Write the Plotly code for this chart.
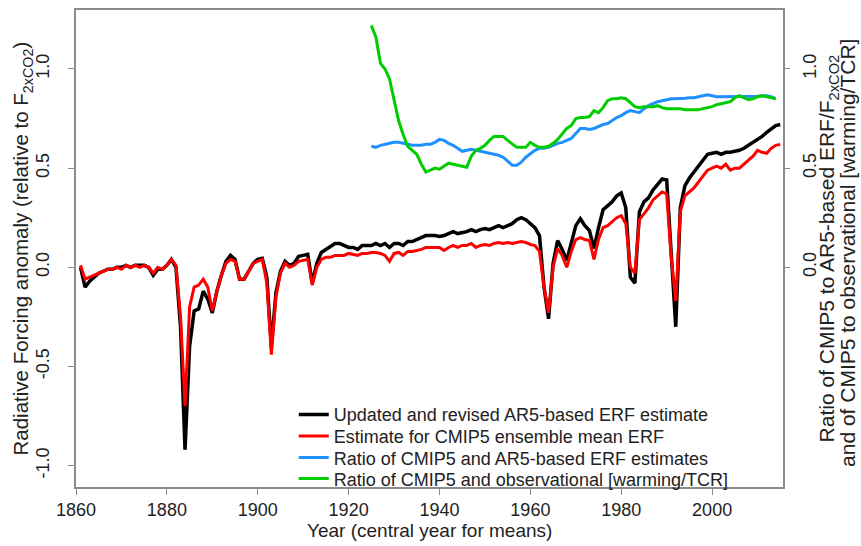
import plotly.graph_objects as go

years = list(range(1861, 2016))

ar5_erf = [
    0.00, -0.10, -0.07, -0.05, -0.03, -0.02, -0.01, -0.01, 0.00, 0.00,   # 1861-1870
    0.01, 0.00, 0.01, 0.01, 0.01, 0.00, -0.04, -0.01, -0.01, 0.01,       # 1871-1880
    0.04, 0.00, -0.30, -0.92, -0.40, -0.22, -0.21, -0.12, -0.16, -0.23,  # 1881-1890
    -0.12, -0.04, 0.03, 0.06, 0.04, -0.06, -0.06, -0.02, 0.02, 0.04,     # 1891-1900
    0.045, -0.05, -0.40, -0.13, -0.02, 0.03, 0.01, 0.02, 0.055, 0.06,    # 1901-1910
    0.065, -0.08, 0.02, 0.075, 0.09, 0.11, 0.12, 0.12, 0.11, 0.10,       # 1911-1920
    0.10, 0.09, 0.11, 0.11, 0.11, 0.12, 0.11, 0.12, 0.10, 0.12,          # 1921-1930
    0.12, 0.11, 0.13, 0.13, 0.14, 0.15, 0.16, 0.16, 0.16, 0.155,         # 1931-1940
    0.16, 0.17, 0.18, 0.17, 0.175, 0.18, 0.19, 0.18, 0.19, 0.195,        # 1941-1950
    0.19, 0.20, 0.21, 0.20, 0.21, 0.22, 0.24, 0.25, 0.24, 0.22,          # 1951-1960
    0.20, 0.16, -0.10, -0.26, 0.02, 0.135, 0.09, 0.035, 0.13, 0.21,      # 1961-1970
    0.245, 0.21, 0.185, 0.095, 0.20, 0.29, 0.31, 0.33, 0.36, 0.375,      # 1971-1980
    0.30, -0.05, -0.08, 0.28, 0.33, 0.35, 0.39, 0.42, 0.445, 0.44,       # 1981-1990
    0.10, -0.30, 0.30, 0.41, 0.45, 0.48, 0.51, 0.54, 0.57, 0.575,        # 1991-2000
    0.58, 0.57, 0.58, 0.58, 0.585, 0.59, 0.60, 0.615, 0.625, 0.645,      # 2001-2010
    0.66, 0.68, 0.70, 0.715, 0.72,                                       # 2011-2015
]

cmip5_erf = [
    0.01, -0.06, -0.05, -0.04, -0.03, -0.02, -0.01, -0.01, 0.00, -0.01,  # 1861-1870
    0.01, 0.00, 0.01, 0.00, 0.01, 0.00, -0.03, 0.00, -0.01, 0.01,        # 1871-1880
    0.04, 0.01, -0.25, -0.70, -0.20, -0.10, -0.09, -0.06, -0.10, -0.22,  # 1881-1890
    -0.12, -0.04, 0.02, 0.04, 0.03, -0.06, -0.06, -0.02, 0.02, 0.03,     # 1891-1900
    0.04, -0.08, -0.44, -0.15, -0.03, 0.02, 0.00, 0.01, 0.03, 0.035,     # 1901-1910
    0.04, -0.09, 0.00, 0.04, 0.05, 0.05, 0.06, 0.06, 0.06, 0.07,         # 1911-1920
    0.065, 0.06, 0.07, 0.07, 0.075, 0.075, 0.07, 0.06, 0.03, 0.07,       # 1921-1930
    0.075, 0.06, 0.08, 0.08, 0.085, 0.09, 0.10, 0.10, 0.10, 0.10,        # 1931-1940
    0.085, 0.10, 0.11, 0.10, 0.11, 0.11, 0.12, 0.10, 0.11, 0.115,        # 1941-1950
    0.11, 0.12, 0.125, 0.12, 0.125, 0.12, 0.125, 0.13, 0.125, 0.115,     # 1951-1960
    0.11, 0.08, -0.10, -0.23, 0.00, 0.095, 0.06, 0.00, 0.08, 0.14,       # 1961-1970
    0.15, 0.14, 0.135, 0.04, 0.14, 0.20, 0.21, 0.23, 0.25, 0.26,         # 1971-1980
    0.22, 0.00, -0.03, 0.24, 0.27, 0.30, 0.34, 0.36, 0.38, 0.37,         # 1981-1990
    0.05, -0.17, 0.28, 0.36, 0.38, 0.40, 0.43, 0.46, 0.49, 0.50,         # 1991-2000
    0.51, 0.50, 0.52, 0.49, 0.50, 0.50, 0.52, 0.54, 0.56, 0.59,          # 2001-2010
    0.58, 0.575, 0.60, 0.615, 0.62,                                      # 2011-2015
]

ratio_years = list(range(1925, 2015))

ratio_erf = [
    0.61, 0.605, 0.615, 0.62, 0.625, 0.63, 0.63, 0.625, 0.62, 0.615,     # 1925-1934
    0.615, 0.615, 0.62, 0.62, 0.63, 0.645, 0.64, 0.625, 0.615, 0.60,     # 1935-1944
    0.585, 0.59, 0.595, 0.59, 0.585, 0.58, 0.575, 0.57, 0.565, 0.555,    # 1945-1954
    0.535, 0.515, 0.515, 0.53, 0.555, 0.575, 0.59, 0.60, 0.60, 0.605,    # 1955-1964
    0.615, 0.625, 0.63, 0.64, 0.65, 0.675, 0.70, 0.70, 0.695, 0.70,      # 1965-1974
    0.71, 0.72, 0.725, 0.74, 0.755, 0.765, 0.78, 0.79, 0.785, 0.78,      # 1975-1984
    0.80, 0.815, 0.825, 0.835, 0.84, 0.845, 0.85, 0.85, 0.85, 0.852,     # 1985-1994
    0.855, 0.855, 0.86, 0.865, 0.87, 0.865, 0.86, 0.86, 0.86, 0.86,      # 1995-2004
    0.86, 0.86, 0.86, 0.86, 0.86, 0.862, 0.865, 0.865, 0.86, 0.85,       # 2005-2014
]

ratio_obs = [
    1.22, 1.16, 1.03, 1.00, 0.95, 0.84, 0.74, 0.67, 0.61, 0.59,          # 1925-1934
    0.57, 0.52, 0.48, 0.49, 0.50, 0.495, 0.51, 0.525, 0.52, 0.515,       # 1935-1944
    0.51, 0.505, 0.56, 0.59, 0.60, 0.615, 0.64, 0.66, 0.66, 0.66,        # 1945-1954
    0.64, 0.62, 0.605, 0.605, 0.605, 0.63, 0.615, 0.605, 0.605, 0.61,    # 1955-1964
    0.625, 0.645, 0.67, 0.70, 0.715, 0.75, 0.755, 0.755, 0.76, 0.79,     # 1965-1974
    0.78, 0.805, 0.84, 0.85, 0.85, 0.855, 0.85, 0.83, 0.81, 0.805,       # 1975-1984
    0.81, 0.81, 0.81, 0.815, 0.805, 0.80, 0.80, 0.80, 0.80, 0.795,       # 1985-1994
    0.795, 0.795, 0.795, 0.80, 0.805, 0.81, 0.82, 0.825, 0.83, 0.835,    # 1995-2004
    0.855, 0.865, 0.855, 0.845, 0.85, 0.86, 0.865, 0.86, 0.855, 0.85,    # 2005-2014
]

x_ticks = [1860, 1880, 1900, 1920, 1940, 1960, 1980, 2000]
y_ticks_left = [-1.0, -0.5, 0.0, 0.5, 1.0]
y_ticks_right = [0.0, 0.5, 1.0]

FONT = "Liberation Sans, Arial, sans-serif"
TXT = "#222222"
FRAME = "#8c8c8c"
YR = [-1.108, 1.2975]

fig = go.Figure()
fig.add_trace(go.Scatter(x=years, y=ar5_erf, mode="lines",
                         line=dict(color="#000000", width=3.5), legend="legend",
                         name="Updated and revised AR5-based ERF estimate"))
fig.add_trace(go.Scatter(x=years, y=cmip5_erf, mode="lines",
                         line=dict(color="#ff0000", width=3), legend="legend2",
                         name="Estimate for CMIP5 ensemble mean ERF"))
fig.add_trace(go.Scatter(x=ratio_years, y=ratio_erf, mode="lines",
                         line=dict(color="#1e90ff", width=3), yaxis="y2",
                         legend="legend3",
                         name="Ratio of CMIP5 and AR5-based ERF estimates"))
fig.add_trace(go.Scatter(x=ratio_years, y=ratio_obs, mode="lines",
                         line=dict(color="#00cd00", width=3), yaxis="y2",
                         legend="legend4",
                         name="Ratio of CMIP5 and observational [warming/TCR]"))

def leg(ymid):
    return dict(x=0.308, y=ymid, xanchor="left", yanchor="middle",
                bgcolor="rgba(0,0,0,0)", borderwidth=0,
                font=dict(size=18, color=TXT), itemwidth=30)

fig.update_layout(
    width=861, height=546,
    margin=dict(l=76, r=78, t=10, b=59, autoexpand=False),
    paper_bgcolor="white", plot_bgcolor="white",
    font=dict(family=FONT, size=18, color=TXT),
    showlegend=True,
    legend=leg(0.1515), legend2=leg(0.1063), legend3=leg(0.0612), legend4=leg(0.0172),
    xaxis=dict(range=[1860, 2015.6], tickvals=x_ticks, ticks="outside",
               ticklen=6, tickcolor=FRAME, showline=True, linecolor=FRAME,
               linewidth=1.5, mirror=True, showgrid=False, zeroline=False,
               automargin=False, tickfont=dict(size=18, color=TXT)),
    yaxis=dict(range=YR, tickvals=y_ticks_left, ticktext=["-1.0", "-0.5", "0.0", "0.5", "1.0"],
               ticks="outside", ticklen=6, tickcolor=FRAME, showline=True,
               linecolor=FRAME, linewidth=1.5, mirror=True, showgrid=False,
               zeroline=False, tickangle=-90, automargin=False,
               ticklabelstandoff=12, tickfont=dict(size=18, color=TXT)),
    yaxis2=dict(range=YR, tickvals=y_ticks_right, ticktext=["0.0", "0.5", "1.0"],
                overlaying="y", side="right", ticks="outside", ticklen=6,
                tickcolor=FRAME, showline=False, showgrid=False, zeroline=False,
                tickangle=-90, automargin=False, ticklabelstandoff=4,
                tickfont=dict(size=18, color=TXT)),
)

fig.add_annotation(text="Year (central year for means)", xref="paper", yref="paper",
                   x=0.5, y=-0.066, yanchor="top", showarrow=False,
                   font=dict(size=19, color=TXT))
fig.add_annotation(text="Radiative Forcing anomaly (relative to F<sub>2xCO2</sub>)",
                   xref="paper", yref="paper", x=-0.0764, y=0.5, xanchor="center",
                   yanchor="middle", textangle=-90, showarrow=False,
                   font=dict(size=20.5, color=TXT))
fig.add_annotation(text="Ratio of CMIP5 to AR5-based ERF/F<sub>2xCO2</sub>",
                   xref="paper", yref="paper", x=1.0635, y=0.5, xanchor="center",
                   yanchor="middle", textangle=-90, showarrow=False,
                   font=dict(size=21, color=TXT))
fig.add_annotation(text="and of CMIP5 to observational [warming/TCR]",
                   xref="paper", yref="paper", x=1.0915, y=0.49, xanchor="center",
                   yanchor="middle", textangle=-90, showarrow=False,
                   font=dict(size=21, color=TXT))

fig.write_html("out.html", config={"displayModeBar": False},
               post_script="document.body.style.margin='0px';")
